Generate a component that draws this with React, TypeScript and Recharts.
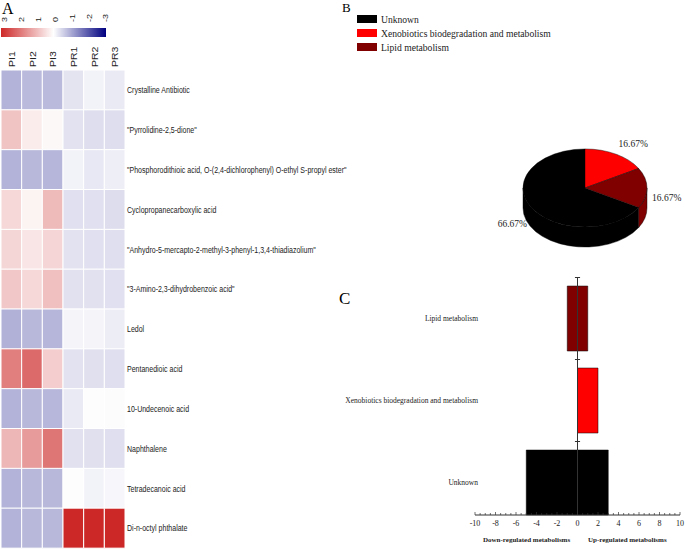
import { Bar, BarChart, Cell, Pie, PieChart, ReferenceLine, XAxis, YAxis } from "recharts"

// ---- panel A: heatmap ----
const compounds = [
  "Crystalline Antibiotic",
  "\"Pyrrolidine-2,5-dione\"",
  "\"Phosphorodithioic acid, O-(2,4-dichlorophenyl) O-ethyl S-propyl ester\"",
  "Cyclopropanecarboxylic acid",
  "\"Anhydro-5-mercapto-2-methyl-3-phenyl-1,3,4-thiadiazolium\"",
  "\"3-Amino-2,3-dihydrobenzoic acid\"",
  "Ledol",
  "Pentanedioic acid",
  "10-Undecenoic acid",
  "Naphthalene",
  "Tetradecanoic acid",
  "Di-n-octyl phthalate",
]
const samples = ["PI1", "PI2", "PI3", "PR1", "PR2", "PR3"]
const PI1 = [-0.9, 0.81, -0.9, 0.53, 0.56, 0.77, -0.92, 1.77, -0.9, 0.99, -0.9, -0.9]
const PI2 = [-0.81, 0.26, -0.84, 0.16, 0.36, 0.53, -0.84, 2.04, -0.84, 1.37, -0.84, -0.84]
const PI3 = [-0.81, 0.1, -0.86, 0.95, 0.58, 0.86, -0.86, 0.67, -0.85, 1.88, -0.84, -0.84]
const PR1 = [-0.32, -0.34, -0.15, -0.36, -0.34, -0.35, -0.13, -0.34, -0.25, -0.35, -0.02, 2.95]
const PR2 = [-0.15, -0.39, -0.27, -0.36, -0.36, -0.35, -0.13, -0.37, -0.02, -0.37, -0.15, 2.95]
const PR3 = [-0.25, -0.39, -0.2, -0.4, -0.38, -0.36, -0.21, -0.38, -0.04, -0.38, -0.1, 2.95]
const columns = [PI1, PI2, PI3, PR1, PR2, PR3]
const scaleLabels = ["3", "2", "1", "0", "-1", "-2", "-3"]

// ---- panel B: pie ----
const pathways = ["Unknown", "Xenobiotics biodegradation and metabolism", "Lipid metabolism"]
const pathwayCounts = [8, 2, 2]
const pathwayColors = ["#000000", "#ff0000", "#800000"]

// ---- panel C: up/down bars ----
const barPathways = ["Lipid metabolism", "Xenobiotics biodegradation and metabolism", "Unknown"]
const downCounts = [-1, 0, -5]
const upCounts = [1, 2, 3]
const barColors = ["#800000", "#ff0000", "#000000"]
const xMajor = [-10, -8, -6, -4, -2, 0, 2, 4, 6, 8, 10]
const xTicks = Array.from({ length: 41 }, (_, i) => -10 + i * 0.5)

const SERIF = "'Liberation Serif', 'Times New Roman', serif"
const SANS = "'Liberation Sans', Arial, sans-serif"

function heat(v: number) {
  if (v >= 0) {
    const t = Math.min(v / 3, 1)
    const r = Math.round(255 - 51 * t)
    const g = Math.round(255 - 219 * t)
    return `rgb(${r},${g},${g})`
  }
  const t = Math.min(-v / 3, 1)
  const g = Math.round(255 - 255 * t)
  const b = Math.round(255 - 127 * t)
  return `rgb(${g},${g},${b})`
}

function Heatmap() {
  const data = compounds.map((name) => ({ name, c0: 1, c1: 1, c2: 1, c3: 1, c4: 1, c5: 1 }))
  return (
    <BarChart
      width={420}
      height={549}
      data={data}
      layout="vertical"
      barCategoryGap={0}
      margin={{ top: 8, right: 0, bottom: 1, left: 1 }}
    >
      <XAxis
        type="number"
        orientation="top"
        domain={[0, 6]}
        ticks={[0.5, 1.5, 2.5, 3.5, 4.5, 5.5]}
        interval={0}
        height={62}
        axisLine={false}
        tickLine={false}
        tickSize={0}
        tickMargin={3}
        tick={({ x, y, payload }: any) => (
          <text
            transform={`translate(${x + 3.5},${y}) rotate(-90) scale(1,0.78)`}
            fontSize={10.5}
            fontFamily={SANS}
            fill="#222"
            textAnchor="start"
          >
            {samples[Math.floor(payload.value)]}
          </text>
        )}
      />
      <YAxis
        type="category"
        dataKey="name"
        orientation="right"
        width={295}
        axisLine={false}
        tickLine={false}
        tickSize={0}
        tickMargin={0}
        interval={0}
        tick={({ x, y, payload }: any) => (
          <text
            transform={`translate(${x + 2},${y}) scale(0.74,1)`}
            dy="0.35em"
            fontSize={9.5}
            fontFamily={SANS}
            fill="#222"
            textAnchor="start"
          >
            {payload.value}
          </text>
        )}
      />
      {samples.map((s, j) => (
        <Bar key={s} dataKey={`c${j}`} stackId="h" stroke="#ffffff" strokeWidth={1} isAnimationActive={false}>
          {compounds.map((c, i) => (
            <Cell key={c} fill={heat(columns[j][i])} />
          ))}
        </Bar>
      ))}
    </BarChart>
  )
}

function ColorKey() {
  return (
    <svg width={110} height={40} style={{ position: "absolute", left: 0, top: 0 }}>
      <defs>
        <linearGradient id="hk" x1="0" x2="1" y1="0" y2="0">
          <stop offset="0" stopColor="rgb(206,40,40)" />
          <stop offset="0.5" stopColor="#ffffff" />
          <stop offset="1" stopColor="rgb(0,0,128)" />
        </linearGradient>
      </defs>
      <rect x={1} y={28} width={105} height={9} fill="url(#hk)" />
      {scaleLabels.map((l, i) => (
        <text
          key={l}
          transform={`translate(${7 + i * 16.9},${22}) rotate(-90) scale(1,0.78)`}
          fontSize={9}
          fontFamily={SANS}
          fill="#222"
        >
          {l}
        </text>
      ))}
    </svg>
  )
}

const TILT = 0.63
const DEPTH = 20
const RAD = Math.PI / 180

function Slice3D(props: any) {
  const { cx, cy, outerRadius, startAngle, endAngle, fill } = props
  const rx = outerRadius
  const ry = outerRadius * TILT
  const pt = (a: number, dy = 0) => `${cx + rx * Math.cos(a * RAD)},${cy - ry * Math.sin(a * RAD) + dy}`
  const large = Math.abs(endAngle - startAngle) > 180 ? 1 : 0
  const sweep = endAngle < startAngle ? 1 : 0
  const top = `M${cx},${cy} L${pt(startAngle)} A${rx},${ry} 0 ${large} ${sweep} ${pt(endAngle)} Z`
  const lo = Math.min(startAngle, endAngle)
  const hi = Math.max(startAngle, endAngle)
  const walls: string[] = []
  for (let k = -2; k <= 1; k++) {
    const a = Math.max(lo, -180 + 360 * k)
    const b = Math.min(hi, 360 * k)
    if (b > a) {
      walls.push(
        `M${pt(b)} A${rx},${ry} 0 0 1 ${pt(a)} L${pt(a, DEPTH)} A${rx},${ry} 0 0 0 ${pt(b, DEPTH)} Z`
      )
    }
  }
  return (
    <g>
      {walls.map((d, i) => (
        <path key={i} d={d} fill={fill} stroke="rgba(0,0,0,0.7)" strokeWidth={0.6} />
      ))}
      <path d={top} fill={fill} stroke="rgba(0,0,0,0.7)" strokeWidth={0.6} />
    </g>
  )
}

function pieLabel(props: any) {
  const { cx, cy, midAngle, outerRadius, percent } = props
  const c = Math.cos(midAngle * RAD)
  const s = Math.sin(midAngle * RAD)
  const x = cx + (outerRadius + 5) * c
  const y = cy - (outerRadius * TILT + 12) * s + (s < 0.05 ? DEPTH / 2 : 0)
  return (
    <text
      x={x}
      y={y}
      dy="0.35em"
      textAnchor={c > 0.2 ? "start" : c < -0.2 ? "end" : "middle"}
      fontSize={9.5}
      fontFamily={SERIF}
      fill="#222"
    >
      {`${(percent * 100).toFixed(2)}%`}
    </text>
  )
}

function PieChart3D() {
  const data = pathways.map((name, i) => ({ name, value: pathwayCounts[i] }))
  return (
    <div style={{ position: "absolute", left: 330, top: 0 }}>
      <PieChart width={355} height={260} margin={{ top: 0, right: 0, bottom: 0, left: 0 }}>
        <Pie
          data={data}
          dataKey="value"
          nameKey="name"
          cx={255}
          cy={188}
          outerRadius={62}
          startAngle={-30}
          endAngle={-390}
          labelLine={false}
          label={pieLabel}
          shape={Slice3D}
          activeShape={Slice3D}
          inactiveShape={Slice3D}
          isAnimationActive={false}
        >
          {data.map((d, i) => (
            <Cell key={d.name} fill={pathwayColors[i]} />
          ))}
        </Pie>
      </PieChart>
      <div style={{ position: "absolute", left: 27, top: 12, fontFamily: SERIF, fontSize: 9.6, color: "#222" }}>
        {pathways.map((p, i) => (
          <div key={p} style={{ display: "flex", alignItems: "center", height: 14 }}>
            <span style={{ display: "inline-block", width: 20, height: 8, background: pathwayColors[i], marginRight: 4 }} />
            {p}
          </div>
        ))}
      </div>
    </div>
  )
}

function UpDownBars() {
  const data = barPathways.map((name, i) => ({ name, down: downCounts[i], up: upCounts[i] }))
  return (
    <div style={{ position: "absolute", left: 330, top: 260 }}>
      <BarChart
        width={355}
        height={289}
        data={data}
        layout="vertical"
        stackOffset="sign"
        barCategoryGap="10.4%"
        margin={{ top: 17.5, right: 5, bottom: 14, left: 0 }}
      >
        <XAxis
          type="number"
          domain={[-10, 10]}
          ticks={xTicks}
          interval={0}
          height={20}
          axisLine={{ stroke: "#333" }}
          tickLine={false}
          tickSize={0}
          tickMargin={0}
          tick={({ x, y, payload }: any) => {
            const major = xMajor.includes(payload.value)
            return (
              <g>
                <line x1={x} x2={x} y1={y} y2={y - (major ? 3 : 2)} stroke="#333" strokeWidth={0.7} />
                {major && (
                  <text x={x} y={y + 11} textAnchor="middle" fontSize={8} fontFamily={SERIF} fill="#222">
                    {payload.value}
                  </text>
                )}
              </g>
            )
          }}
        />
        <YAxis
          type="category"
          dataKey="name"
          width={145}
          axisLine={false}
          tickLine={false}
          tickSize={0}
          tickMargin={0}
          padding={{ top: 0, bottom: -8.5 }}
          tick={({ x, y, payload }: any) => (
            <text x={x + 3} y={y} dy="0.35em" textAnchor="end" fontSize={7.5} fontFamily={SERIF} fill="#222">
              {payload.value}
            </text>
          )}
        />
        <Bar dataKey="down" stackId="s" isAnimationActive={false}>
          {data.map((d, i) => (
            <Cell
              key={d.name}
              fill={barColors[i]}
              stroke={d.down === 0 ? "none" : "#000"}
              strokeWidth={0.5}
            />
          ))}
        </Bar>
        <Bar dataKey="up" stackId="s" isAnimationActive={false}>
          {data.map((d, i) => (
            <Cell key={d.name} fill={barColors[i]} stroke="#000" strokeWidth={0.5} />
          ))}
        </Bar>
        <ReferenceLine x={0} stroke="#333" strokeWidth={1} />
        {[
          { cat: barPathways[0], pos: "start" },
          { cat: barPathways[0], pos: "end" },
          { cat: barPathways[1], pos: "end" },
        ].map((b, i) => (
          <ReferenceLine
            key={i}
            position={b.pos as any}
            segment={[
              { x: -0.25, y: b.cat },
              { x: 0.25, y: b.cat },
            ]}
            stroke="#333"
          />
        ))}
      </BarChart>
      <div style={{ position: "absolute", left: 153, top: 276, fontFamily: SERIF, fontSize: 7, fontWeight: "bold", color: "#222", whiteSpace: "nowrap" }}>
        Down-regulated metabolisms
      </div>
      <div style={{ position: "absolute", left: 258, top: 276, fontFamily: SERIF, fontSize: 7, fontWeight: "bold", color: "#222", whiteSpace: "nowrap" }}>
        Up-regulated metabolisms
      </div>
    </div>
  )
}

export default function App() {
  return (
    <div style={{ position: "absolute", left: 0, top: 0, width: 685, height: 549, background: "#fff", overflow: "hidden" }}>
      <div style={{ position: "absolute", left: 0, top: 0 }}>
        <Heatmap />
      </div>
      <ColorKey />
      <PieChart3D />
      <UpDownBars />
      <div style={{ position: "absolute", left: 2, top: 1, fontFamily: SERIF, fontSize: 16, lineHeight: 1 }}>A</div>
      <div style={{ position: "absolute", left: 342, top: 1, fontFamily: SERIF, fontSize: 13, lineHeight: 1 }}>B</div>
      <div style={{ position: "absolute", left: 339, top: 290, fontFamily: SERIF, fontSize: 17, lineHeight: 1 }}>C</div>
    </div>
  )
}
